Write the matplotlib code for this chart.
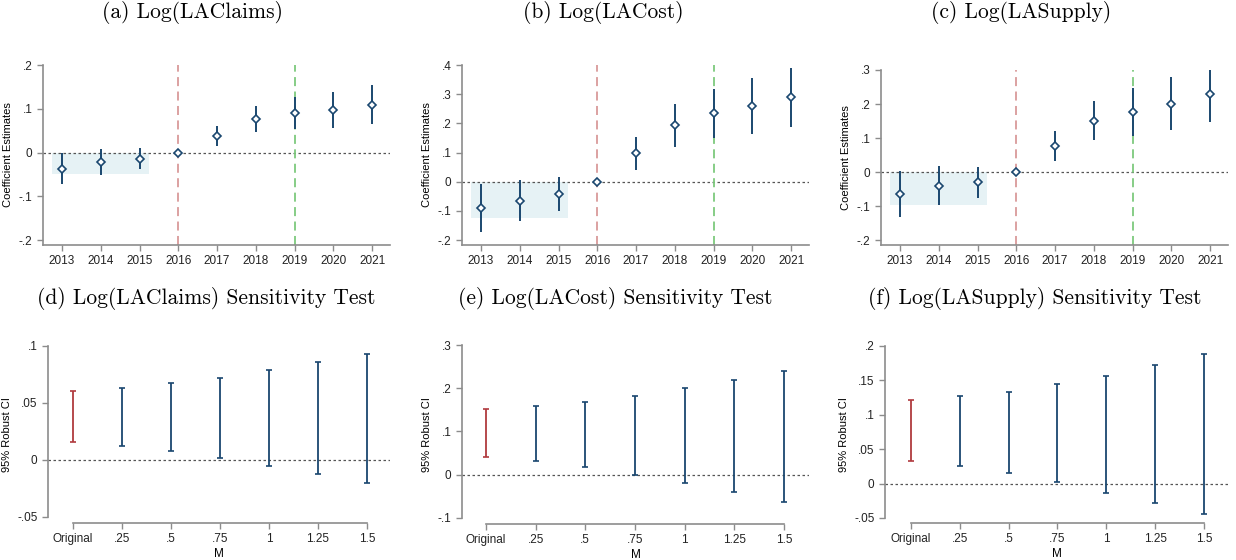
import numpy as np
import matplotlib
matplotlib.use('Agg')
import matplotlib.pyplot as plt
from matplotlib import font_manager

# event-study estimates (top row)
years = [2013, 2014, 2015, 2016, 2017, 2018, 2019, 2020, 2021]

claims_est = [-0.037, -0.022, -0.014, 0.0, 0.038, 0.076, 0.091, 0.098, 0.109]
claims_lo = [-0.071, -0.052, -0.037, 0.0, 0.015, 0.047, 0.053, 0.056, 0.065]
claims_hi = [-0.002, 0.008, 0.010, 0.0, 0.060, 0.106, 0.127, 0.139, 0.154]

cost_est = [-0.090, -0.066, -0.043, 0.0, 0.097, 0.193, 0.234, 0.260, 0.289]
cost_lo = [-0.174, -0.136, -0.101, 0.0, 0.041, 0.120, 0.151, 0.164, 0.189]
cost_hi = [-0.007, 0.005, 0.016, 0.0, 0.152, 0.265, 0.319, 0.355, 0.391]

supply_est = [-0.064, -0.040, -0.030, 0.0, 0.077, 0.151, 0.177, 0.200, 0.230]
supply_lo = [-0.131, -0.098, -0.077, 0.0, 0.032, 0.093, 0.107, 0.123, 0.148]
supply_hi = [0.003, 0.017, 0.015, 0.0, 0.122, 0.210, 0.247, 0.278, 0.313]

# pre-period band bottom
band_claims = -0.05
band_cost = -0.125
band_supply = -0.096

# sensitivity tests (bottom row)
m_labels = ['Original', '.25', '.5', '.75', '1', '1.25', '1.5']

claims_ci_lo = [0.0155, 0.012, 0.0082, 0.002, -0.0056, -0.0126, -0.0202]
claims_ci_hi = [0.0608, 0.0635, 0.0673, 0.0722, 0.0787, 0.086, 0.0933]

cost_ci_lo = [0.041, 0.031, 0.018, 0.0, -0.020, -0.041, -0.063]
cost_ci_hi = [0.152, 0.159, 0.169, 0.182, 0.201, 0.219, 0.239]

supply_ci_lo = [0.0331, 0.0253, 0.0156, 0.0024, -0.0131, -0.0287, -0.0443]
supply_ci_hi = [0.1217, 0.127, 0.1333, 0.1445, 0.1567, 0.1727, 0.1878]

NAVY = '#1a476f'
RED = '#b03a3e'
GRAY = '#8c8c8c'

names = {f.name for f in font_manager.fontManager.ttflist}
sans = ['Liberation Sans Narrow'] if 'Liberation Sans Narrow' in names else []
sans += ['Liberation Sans', 'DejaVu Sans']
plt.rcParams['font.family'] = sans


def fmt(v):
    s = ('%g' % round(v, 4))
    s = s.replace('0.', '.') if abs(v) < 1 else s
    return s


def style_axes(ax):
    for side in ['top', 'right']:
        ax.spines[side].set_visible(False)
    ax.spines['left'].set_color(GRAY)
    ax.spines['bottom'].set_color(GRAY)
    ax.spines['left'].set_linewidth(1.2)
    ax.spines['bottom'].set_linewidth(1.2)
    ax.tick_params(colors=GRAY, labelcolor='#222222', length=4, width=1.0,
                   labelsize=8.5)


fig = plt.figure(figsize=(12.36, 5.6), dpi=100)
W, H = 1236.0, 560.0


def add_ax(left, right, top, bottom):
    return fig.add_axes([left / W, (H - bottom) / H, (right - left) / W, (bottom - top) / H])


top_panels = [
    (claims_est, claims_lo, claims_hi, band_claims, [-0.2, -0.1, 0, 0.1, 0.2], (-0.2114, 0.2),
     (43, 390, 65, 245), 'a', 'Log(LAClaims)', 193),
    (cost_est, cost_lo, cost_hi, band_cost, [-0.2, -0.1, 0, 0.1, 0.2, 0.3, 0.4], (-0.217, 0.4),
     (462, 809, 65, 245), 'b', 'Log(LACost)', 603),
    (supply_est, supply_lo, supply_hi, band_supply, [-0.2, -0.1, 0, 0.1, 0.2, 0.3], (-0.2147, 0.3),
     (881, 1228, 70, 245), 'c', 'Log(LASupply)', 1021),
]

for est, lo, hi, band, yt, ylim, box, letter, name, tx in top_panels:
    ax = add_ax(*box)
    style_axes(ax)
    ax.set_xlim(2012.51, 2021.46)
    ax.set_ylim(*ylim)
    ax.fill_between([2012.75, 2015.25], band, 0, color='#e6f2f5', zorder=0, lw=0)
    ax.axhline(0, color='#555555', lw=0.9, ls=(0, (2, 2)), zorder=1)
    ax.axvline(2016, color='#d99a9a', lw=1.3, ls=(0, (5, 3)), zorder=1)
    ax.axvline(2019, color='#7dc97d', lw=1.3, ls=(0, (5, 3)), zorder=1)
    ax.vlines(years, lo, hi, color=NAVY, lw=1.4, zorder=2)
    ax.plot(years, est, ls='none', marker='D', ms=3.8, mfc='white', mec=NAVY,
            mew=1.2, zorder=3)
    ax.set_xticks(years)
    ax.set_xticklabels([str(y) for y in years])
    ax.set_yticks(yt)
    ax.set_yticklabels([fmt(v) for v in yt])
    ax.set_ylabel('Coefficient Estimates', fontsize=8, labelpad=4)
    fig.text(tx / W, 1 - 12 / H, '(%s) %s' % (letter, name), ha='center', va='center',
             family='cmr10', fontsize=15.5)

bottom_panels = [
    (claims_ci_lo, claims_ci_hi, [-0.05, 0, 0.05, 0.1], (-0.0553, 0.1), (-0.51, 6.47),
     (48, 390, 346, 523), 'd', 'Log(LAClaims)', 206),
    (cost_ci_lo, cost_ci_hi, [-0.1, 0, 0.1, 0.2, 0.3], (-0.1139, 0.3), (-0.48, 6.5),
     (462, 809, 345, 524), 'e', 'Log(LACost)', 615),
    (supply_ci_lo, supply_ci_hi, [-0.05, 0, 0.05, 0.1, 0.15, 0.2], (-0.0573, 0.2), (-0.53, 6.49),
     (885, 1228, 346, 523), 'f', 'Log(LASupply)', 1035),
]

for lo, hi, yt, ylim, xlim, box, letter, name, tx in bottom_panels:
    ax = add_ax(*box)
    style_axes(ax)
    ax.set_xlim(*xlim)
    ax.set_ylim(*ylim)
    ax.spines['bottom'].set_bounds(0, len(m_labels) - 1)
    ax.spines['left'].set_bounds(yt[0], yt[-1])
    ax.axhline(0, color='#555555', lw=0.9, ls=(0, (2, 2)), zorder=1)
    xs = np.arange(len(m_labels))
    mid = (np.array(lo) + np.array(hi)) / 2
    half = (np.array(hi) - np.array(lo)) / 2
    cols = [RED] + [NAVY] * (len(m_labels) - 1)
    for i in range(len(m_labels)):
        ax.errorbar(xs[i], mid[i], yerr=half[i], fmt='none', ecolor=cols[i],
                    elinewidth=1.3, capsize=2.5, capthick=1.2, zorder=2)
    ax.set_xticks(xs)
    ax.set_xticklabels(m_labels)
    ax.set_yticks(yt)
    ax.set_yticklabels([fmt(v) for v in yt])
    ax.set_ylabel('95% Robust CI', fontsize=8, labelpad=4)
    ax.set_xlabel('M', fontsize=8.5, labelpad=2)
    fig.text(tx / W, 1 - 298 / H, '(%s) %s Sensitivity Test' % (letter, name),
             ha='center', va='center', family='cmr10', fontsize=15.5)

fig.savefig('out.png', dpi=100)
